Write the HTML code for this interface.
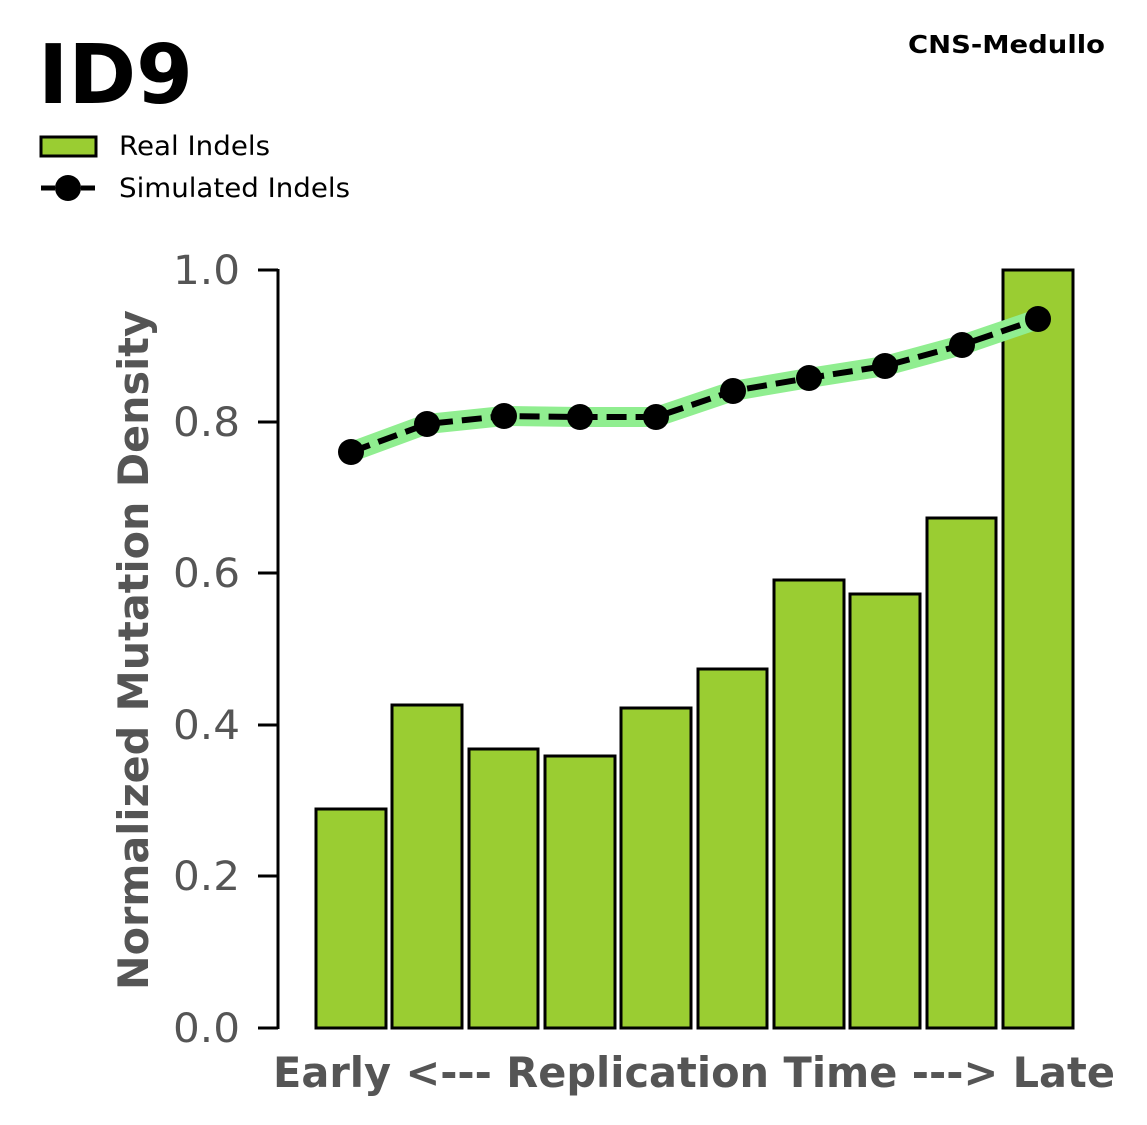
<!DOCTYPE html>
<html><head><meta charset="utf-8"><style>
html,body{margin:0;padding:0;background:#fff;}
svg{display:block;}
</style></head><body>
<svg width="1147" height="1125" xmlns="http://www.w3.org/2000/svg" font-family="'DejaVu Sans','Liberation Sans',sans-serif">
<rect width="1147" height="1125" fill="#fff"/>
<text x="38" y="103" font-size="82" font-weight="bold" fill="#000" textLength="155" lengthAdjust="spacingAndGlyphs">ID9</text>
<text x="908" y="53" font-size="25" font-weight="bold" fill="#000" textLength="197" lengthAdjust="spacingAndGlyphs">CNS-Medullo</text>
<rect x="41" y="137" width="55" height="19" fill="#9ACD32" stroke="#000" stroke-width="3"/>
<text x="119" y="155" font-size="27" fill="#000" textLength="151" lengthAdjust="spacingAndGlyphs">Real Indels</text>
<line x1="41" y1="188" x2="96" y2="188" stroke="#000" stroke-width="5" stroke-dasharray="14,6"/>
<circle cx="68" cy="188" r="13" fill="#000"/>
<text x="119" y="197" font-size="27" fill="#000" textLength="231" lengthAdjust="spacingAndGlyphs">Simulated Indels</text>
<g fill="#9ACD32" stroke="#000" stroke-width="3">
<rect x="316" y="809" width="70" height="219"/>
<rect x="392" y="705" width="70" height="323"/>
<rect x="469" y="749" width="69" height="279"/>
<rect x="545" y="756" width="70" height="272"/>
<rect x="621" y="708" width="70" height="320"/>
<rect x="698" y="669" width="69" height="359"/>
<rect x="774" y="580" width="70" height="448"/>
<rect x="850" y="594" width="70" height="434"/>
<rect x="927" y="518" width="69" height="510"/>
<rect x="1003" y="270" width="70" height="758"/>
</g>
<polyline points="351,452 427,424 504,416 580,417 656,417 733,391 809,378 885,366 962,345 1038,319" fill="none" stroke="#90EE90" stroke-width="20" stroke-linejoin="round"/>
<polyline points="351,452 427,424 504,416 580,417 656,417 733,391 809,378 885,366 962,345 1038,319" fill="none" stroke="#000" stroke-width="6" stroke-dasharray="20,9"/>
<g fill="#000">
<circle cx="351" cy="452" r="13"/><circle cx="427" cy="424" r="13"/><circle cx="504" cy="416" r="13"/><circle cx="580" cy="417" r="13"/><circle cx="656" cy="417" r="13"/><circle cx="733" cy="391" r="13"/><circle cx="809" cy="378" r="13"/><circle cx="885" cy="366" r="13"/><circle cx="962" cy="345" r="13"/><circle cx="1038" cy="319" r="13"/>
</g>
<line x1="278" y1="269" x2="278" y2="1029" stroke="#000" stroke-width="3"/>
<g stroke="#000" stroke-width="3">
<line x1="258" y1="1028" x2="278" y2="1028"/><line x1="258" y1="876" x2="278" y2="876"/><line x1="258" y1="725" x2="278" y2="725"/><line x1="258" y1="573" x2="278" y2="573"/><line x1="258" y1="422" x2="278" y2="422"/><line x1="258" y1="270" x2="278" y2="270"/>
</g>
<g font-size="40" fill="#555">
<text x="173" y="1042" textLength="67" lengthAdjust="spacingAndGlyphs">0.0</text>
<text x="173" y="890" textLength="67" lengthAdjust="spacingAndGlyphs">0.2</text>
<text x="173" y="739" textLength="67" lengthAdjust="spacingAndGlyphs">0.4</text>
<text x="173" y="587" textLength="67" lengthAdjust="spacingAndGlyphs">0.6</text>
<text x="173" y="436" textLength="67" lengthAdjust="spacingAndGlyphs">0.8</text>
<text x="173" y="284" textLength="67" lengthAdjust="spacingAndGlyphs">1.0</text>
</g>
<text x="273" y="1087" font-size="42" font-weight="bold" fill="#555" textLength="842" lengthAdjust="spacingAndGlyphs">Early &lt;--- Replication Time ---&gt; Late</text>
<text transform="translate(148,990) rotate(-90)" font-size="42" font-weight="bold" fill="#555" textLength="680" lengthAdjust="spacingAndGlyphs">Normalized Mutation Density</text>
</svg>
</body></html>
